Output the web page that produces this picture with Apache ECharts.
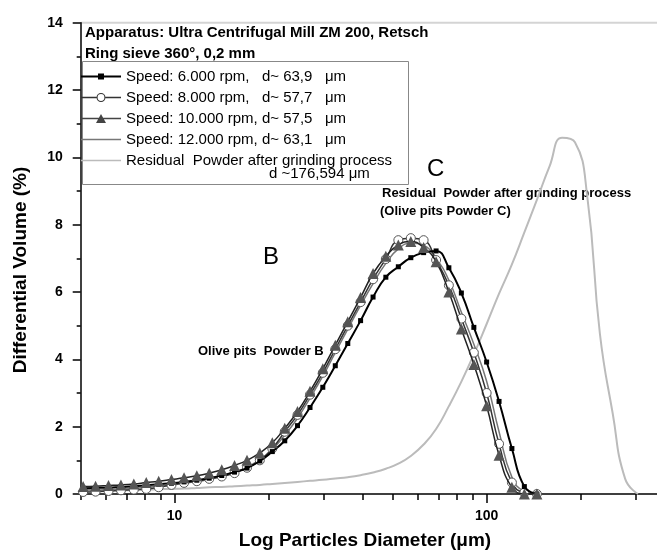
<!DOCTYPE html>
<html>
<head>
<meta charset="utf-8">
<script src="https://cdn.jsdelivr.net/npm/echarts@6/dist/echarts.min.js"></script>
<style>
html,body{margin:0;padding:0;background:#fff;}
#c{width:657px;height:554px;}
</style>
</head>
<body>
<div id="c"></div>
<script>
// Particle diameter bins (µm)
const diameters = [5.09,5.58,6.14,6.73,7.40,8.11,8.89,9.77,10.72,11.78,12.91,14.16,15.56,17.06,18.75,20.56,22.54,24.77,27.16,29.85,32.73,35.89,39.45,43.25,47.53,52.12,57.15,62.81,68.87,75.68,82.99,91.00,100.0,109.6,120.5,132.1,144.9,159.2,174.6,191.9,210.4,230.7,253.5,278.0,305.5];

// Differential volume (%)
const speed6000 = [0.17,0.18,0.19,0.21,0.23,0.26,0.29,0.32,0.36,0.41,0.47,0.55,0.65,0.77,0.98,1.26,1.58,2.03,2.57,3.17,3.81,4.47,5.15,5.85,6.44,6.75,7.02,7.17,7.22,6.72,5.97,4.95,3.92,2.75,1.35,0.22,0.0];
const speed8000 = [0.06,0.07,0.09,0.11,0.13,0.15,0.20,0.27,0.33,0.38,0.45,0.52,0.62,0.78,1.0,1.35,1.85,2.35,2.95,3.6,4.3,5.0,5.7,6.38,6.98,7.54,7.6,7.54,6.95,6.2,5.21,4.2,3.0,1.49,0.34,0.04,0];
const speed10000 = [0.22,0.23,0.25,0.27,0.30,0.34,0.38,0.43,0.48,0.54,0.62,0.72,0.85,1.0,1.22,1.52,1.95,2.45,3.05,3.72,4.42,5.12,5.84,6.55,7.06,7.4,7.5,7.32,6.9,6.0,4.9,3.85,2.62,1.15,0.2,0,0];
const speed12000 = [0.12,0.12,0.13,0.15,0.17,0.2,0.23,0.27,0.32,0.37,0.44,0.53,0.65,0.8,1.02,1.32,1.75,2.25,2.85,3.5,4.2,4.9,5.6,6.25,6.85,7.28,7.45,7.38,7.0,6.35,5.4,4.45,3.35,1.85,0.5,0.08,0];
const residual = [0.10,0.10,0.11,0.11,0.12,0.13,0.14,0.15,0.16,0.18,0.20,0.21,0.23,0.25,0.27,0.30,0.33,0.36,0.39,0.42,0.46,0.50,0.56,0.64,0.75,0.9,1.13,1.47,1.93,2.61,3.34,4.15,5.05,5.95,6.82,7.77,8.74,9.74,10.58,10.45,8.8,4.76,2.4,0.45,0];

// Axis ticks
const xMajorTicks = [10, 100];
const xMinorTicks = [5,6,7,8,9,20,30,40,50,60,70,80,90,200,300];
const xMin = 5, xMax = 351.6;

const names = [
  'Speed: 6.000 rpm,   d~ 63,9   \u03bcm',
  'Speed: 8.000 rpm,   d~ 57,7   \u03bcm',
  'Speed: 10.000 rpm, d~ 57,5   \u03bcm',
  'Speed: 12.000 rpm, d~ 63,1   \u03bcm',
  'Residual  Powder after grinding process'
];

const L = Math.log10;
function pts(vals){ return vals.map((v,i)=>[L(diameters[i]), v]); }

const FF = '"Liberation Sans", Arial, sans-serif';
const chart = echarts.init(document.getElementById('c'), null, {renderer:'canvas'});

const icon1 = 'path://M0,6 L17,6 L17,4 L23,4 L23,6 L40,6 L40,8 L23,8 L23,10 L17,10 L17,8 L0,8 Z';
const icon2 = 'path://M0,6.25 L15.5,6.25 L15.5,7.75 L0,7.75 Z M24.5,6.25 L40,6.25 L40,7.75 L24.5,7.75 Z M15.5,7 A4.5,4.5 0 1,1 24.5,7 A4.5,4.5 0 1,1 15.5,7 Z M16.6,7 A3.4,3.4 0 1,0 23.4,7 A3.4,3.4 0 1,0 16.6,7 Z';
const icon3 = 'path://M0,6.3 L40,6.3 L40,7.7 L0,7.7 Z M15,11.5 L20,2.5 L25,11.5 Z';
const iconLine = 'path://M0,6.25 L40,6.25 L40,7.75 L0,7.75 Z';

const SM = 0.5;
const option = {
  animation: false,
  backgroundColor: '#fff',
  grid: {left: 80.7, right: 0, top: 22.7, bottom: 60, containLabel: false},
  legend: {
    orient: 'vertical', left: 81, top: 69, padding: 0,
    itemWidth: 40, itemHeight: 14, itemGap: 6,
    selectedMode: false,
    itemStyle: {borderWidth: 0},
    textStyle: {fontFamily: FF, fontSize: 15, color: '#000'},
    data: [
      {name: names[0], icon: icon1, itemStyle: {color: '#000', borderWidth: 0}},
      {name: names[1], icon: icon2, itemStyle: {color: '#333', borderWidth: 0}},
      {name: names[2], icon: icon3, itemStyle: {color: '#444', borderWidth: 0}},
      {name: names[3], icon: iconLine, itemStyle: {color: '#777', borderWidth: 0}},
      {name: names[4], icon: iconLine, itemStyle: {color: '#bbb', borderWidth: 0}}
    ]
  },
  xAxis: [
    {
      type: 'value', min: L(xMin), max: L(xMax), position: 'bottom',
      axisLine: {show: true, onZero: false, lineStyle: {color: '#000', width: 1.5}},
      axisTick: {show: true, customValues: xMajorTicks.map(L), length: 9, lineStyle: {color: '#000', width: 1.5}},
      axisLabel: {customValues: xMajorTicks.map(L), formatter: v => String(Math.round(Math.pow(10, v))),
        fontFamily: FF, fontWeight: 'bold', fontSize: 14, color: '#000', margin: 15},
      splitLine: {show: false}
    },
    {
      type: 'value', min: L(xMin), max: L(xMax), position: 'bottom', offset: 0,
      axisLine: {show: false},
      axisTick: {show: true, customValues: xMinorTicks.map(L), length: 6, lineStyle: {color: '#000', width: 1.5}},
      axisLabel: {show: false},
      splitLine: {show: false}
    }
  ],
  yAxis: {
    type: 'value', min: 0, max: 14, interval: 2,
    axisLine: {show: true, lineStyle: {color: '#000', width: 1.5}},
    axisTick: {show: true, length: 8, lineStyle: {color: '#000', width: 1.5}},
    minorTick: {show: true, splitNumber: 2, length: 4, lineStyle: {color: '#000', width: 1.5}},
    axisLabel: {fontFamily: FF, fontWeight: 'bold', fontSize: 14, color: '#000', margin: 18},
    splitLine: {show: false}
  },
  series: [
    {name: names[0], type: 'line', data: pts(speed6000), smooth: SM, symbol: 'rect', symbolSize: 5,
      showAllSymbol: true, lineStyle: {color: '#000', width: 2}, itemStyle: {color: '#000'}, z: 4},
    {name: names[1], type: 'line', data: pts(speed8000), smooth: SM, symbol: 'circle', symbolSize: 9,
      showAllSymbol: true, lineStyle: {color: '#333', width: 1.5}, itemStyle: {color: '#fff', borderColor: '#555', borderWidth: 1}, z: 3},
    {name: names[2], type: 'line', data: pts(speed10000), smooth: SM, symbol: 'triangle', symbolSize: 11,
      showAllSymbol: true, lineStyle: {color: '#222', width: 1.5}, itemStyle: {color: '#555'}, z: 5},
    {name: names[3], type: 'line', data: pts(speed12000), smooth: SM, symbol: 'none',
      lineStyle: {color: '#777', width: 1.5}, itemStyle: {color: '#777'}, z: 2},
    {name: names[4], type: 'line', data: pts(residual), smooth: SM, symbol: 'none',
      lineStyle: {color: '#bbb', width: 2}, itemStyle: {color: '#bbb'}, z: 1}
  ],
  graphic: [
    {type: 'line', shape: {x1: 80.7, y1: 22.7, x2: 657, y2: 22.7}, style: {stroke: '#d4d4d4', lineWidth: 2}, silent: true},
    {type: 'rect', shape: {x: 82.5, y: 61.5, width: 326, height: 123}, style: {fill: 'none', stroke: '#888', lineWidth: 1}, silent: true},
    {type: 'text', x: 85, y: 33, style: {text: 'Apparatus: Ultra Centrifugal Mill ZM 200, Retsch', font: 'bold 15px ' + FF, fill: '#000', textAlign: 'left', textVerticalAlign: 'middle'}},
    {type: 'text', x: 85, y: 54, style: {text: 'Ring sieve 360\u00b0, 0,2 mm', font: 'bold 15px ' + FF, fill: '#000', textAlign: 'left', textVerticalAlign: 'middle'}},
    {type: 'text', x: 269, y: 174, style: {text: 'd ~176,594 \u03bcm', font: '15px ' + FF, fill: '#000', textAlign: 'left', textVerticalAlign: 'middle'}},
    {type: 'text', x: 427, y: 169, style: {text: 'C', font: '24px ' + FF, fill: '#000', textAlign: 'left', textVerticalAlign: 'middle'}},
    {type: 'text', x: 382, y: 193, style: {text: 'Residual  Powder after grinding process', font: 'bold 13px ' + FF, fill: '#000', textAlign: 'left', textVerticalAlign: 'middle'}},
    {type: 'text', x: 380, y: 211, style: {text: '(Olive pits Powder C)', font: 'bold 13px ' + FF, fill: '#000', textAlign: 'left', textVerticalAlign: 'middle'}},
    {type: 'text', x: 263, y: 257, style: {text: 'B', font: '24px ' + FF, fill: '#000', textAlign: 'left', textVerticalAlign: 'middle'}},
    {type: 'text', x: 198, y: 351, style: {text: 'Olive pits  Powder B', font: 'bold 13px ' + FF, fill: '#000', textAlign: 'left', textVerticalAlign: 'middle'}},
    {type: 'text', x: 365, y: 541, style: {text: 'Log Particles Diameter (\u03bcm)', font: 'bold 19px ' + FF, fill: '#000', textAlign: 'center', textVerticalAlign: 'middle'}},
    {type: 'text', x: 21, y: 270, rotation: Math.PI / 2, style: {text: 'Differential Volume (%)', font: 'bold 19px ' + FF, fill: '#000', textAlign: 'center', textVerticalAlign: 'middle'}}
  ]
};
chart.setOption(option);
</script>
</body>
</html>
